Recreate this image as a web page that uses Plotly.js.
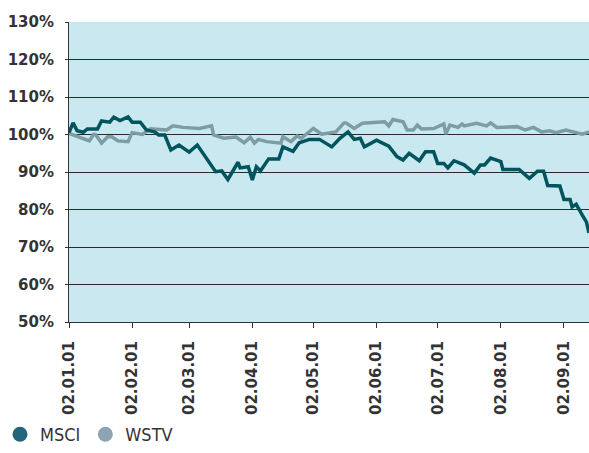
<!DOCTYPE html>
<html>
<head>
<meta charset="utf-8">
<script src="https://cdn.plot.ly/plotly-3.0.1.min.js"></script>
<style>html,body{margin:0;padding:0;background:#fff;}#chart{width:589px;height:453px;}</style>
</head>
<body>
<div id="chart"></div>
<script>
// MSCI index (% of start)
const msciDates = ['2001-01-02','2001-01-04','2001-01-06','2001-01-09','2001-01-11','2001-01-16','2001-01-18','2001-01-22','2001-01-24','2001-01-27','2001-01-31',
'2001-02-02','2001-02-06','2001-02-09','2001-02-13','2001-02-15','2001-02-18','2001-02-21','2001-02-25',
'2001-03-02','2001-03-06','2001-03-15','2001-03-18','2001-03-21','2001-03-26','2001-03-27','2001-03-31',
'2001-04-02','2001-04-04','2001-04-06','2001-04-10','2001-04-15','2001-04-17','2001-04-22','2001-04-25','2001-04-30',
'2001-05-05','2001-05-11','2001-05-15','2001-05-19','2001-05-22','2001-05-25','2001-05-27',
'2001-06-02','2001-06-08','2001-06-12','2001-06-15','2001-06-18','2001-06-23','2001-06-26','2001-06-30',
'2001-07-02','2001-07-05','2001-07-07','2001-07-10','2001-07-15','2001-07-20','2001-07-23','2001-07-25','2001-07-28',
'2001-08-02','2001-08-03','2001-08-11','2001-08-16','2001-08-20','2001-08-23','2001-08-25','2001-08-31',
'2001-09-02','2001-09-05','2001-09-06','2001-09-08','2001-09-11','2001-09-13','2001-09-14 07:00'];
const msciValues = [100.5,103.1,101.0,100.6,101.5,101.5,103.6,103.3,104.6,103.7,104.7,
103.3,103.3,101.2,100.7,99.9,99.9,95.9,97.2,
95.3,97.2,90.1,90.3,88.0,92.6,91.1,91.4,
87.9,91.4,90.3,93.5,93.5,96.7,95.5,97.8,98.7,
98.7,96.7,99.0,100.7,98.7,99.0,96.7,
98.5,96.9,94.1,93.2,95.0,93.0,95.4,95.4,
92.3,92.3,91.1,93.0,91.9,89.7,91.9,91.9,93.7,
92.8,90.7,90.7,88.3,90.2,90.2,86.4,86.3,
82.7,82.7,80.7,81.4,78.5,76.7,73.8];

// WSTV index (% of start)
const wstvDates = ['2001-01-02','2001-01-07','2001-01-12','2001-01-14','2001-01-15','2001-01-18','2001-01-21','2001-01-23','2001-01-26','2001-01-31',
'2001-02-02','2001-02-07','2001-02-11','2001-02-19','2001-02-22','2001-02-27',
'2001-03-07','2001-03-13','2001-03-14','2001-03-19','2001-03-25','2001-03-29',
'2001-04-01','2001-04-03','2001-04-05','2001-04-09','2001-04-16','2001-04-17','2001-04-21','2001-04-24','2001-04-26',
'2001-05-02','2001-05-06','2001-05-13','2001-05-17','2001-05-18','2001-05-22','2001-05-26',
'2001-06-06','2001-06-08','2001-06-10','2001-06-15','2001-06-17','2001-06-20','2001-06-22','2001-06-24','2001-06-30',
'2001-07-05','2001-07-06','2001-07-08','2001-07-12','2001-07-14','2001-07-15','2001-07-21','2001-07-26','2001-07-28','2001-07-31',
'2001-08-10','2001-08-14','2001-08-18','2001-08-22','2001-08-26','2001-08-29',
'2001-09-03','2001-09-11','2001-09-14 07:00'];
const wstvValues = [100.3,99.4,98.3,100.0,100.0,97.7,99.4,99.4,98.3,98.1,
100.5,100.0,101.5,101.2,102.3,101.9,
101.6,102.3,99.9,99.0,99.3,97.8,
99.3,97.7,98.7,98.1,97.7,99.4,98.1,99.6,99.0,
101.6,100.1,100.7,103.1,103.1,101.6,103.0,
103.4,102.3,104.0,103.4,101.2,101.2,102.5,101.5,101.6,
102.8,100.1,102.5,101.9,102.8,102.3,103.0,102.3,103.1,101.9,
102.1,101.2,101.9,100.7,101.0,100.5,
101.2,100.1,100.7];

const seriesNames = ['MSCI','WSTV'];
const tickDates = ['2001-01-02','2001-02-02','2001-03-02','2001-04-02','2001-05-02','2001-06-02','2001-07-02','2001-08-02','2001-09-02'];
const tickLabels = ['02.01.01','02.02.01','02.03.01','02.04.01','02.05.01','02.06.01','02.07.01','02.08.01','02.09.01'];
const yTicks = [50,60,70,80,90,100,110,120,130];
const yTickLabels = ['50%','60%','70%','80%','90%','100%','110%','120%','130%'];

const lineColors = ['#00545d','#7e9ca3'];
const legendColors = ['#24657e','#8ea4b4'];

const traces = [
  {x: wstvDates, y: wstvValues, type:'scatter', mode:'lines', line:{color:lineColors[1], width:3.5}, showlegend:false, hoverinfo:'skip'},
  {x: msciDates, y: msciValues, type:'scatter', mode:'lines', line:{color:lineColors[0], width:3.5}, showlegend:false, hoverinfo:'skip'},
  {x:[null], y:[null], type:'scatter', mode:'markers', name:seriesNames[0], marker:{color:legendColors[0], size:15}},
  {x:[null], y:[null], type:'scatter', mode:'markers', name:seriesNames[1], marker:{color:legendColors[1], size:15}}
];

const layout = {
  width:589, height:453,
  margin:{l:69, r:0, t:22, b:131, pad:0},
  paper_bgcolor:'#ffffff',
  plot_bgcolor:'#c9e8ef',
  showlegend:true,
  legend:{orientation:'h', xref:'container', yref:'container', x:0, xanchor:'left', y:-0.016, yanchor:'bottom',
          font:{family:'Liberation Sans Narrow, DejaVu Sans Condensed, sans-serif', size:18, color:'#333'},
          bgcolor:'rgba(0,0,0,0)', itemclick:false},
  xaxis:{type:'date', range:['2001-01-02','2001-09-14 07:00'], automargin:false,
         tickmode:'array', tickvals:tickDates, ticktext:tickLabels, tickangle:-90,
         ticks:'outside', ticklen:5, tickcolor:'#333', tickwidth:1, ticklabelstandoff:7,
         showline:true, linecolor:'#333', linewidth:1, showgrid:false, zeroline:false,
         tickfont:{family:'DejaVu Sans, sans-serif', size:15, color:'#333', weight:'bold'}},
  yaxis:{range:[50,130], tickmode:'array', tickvals:yTicks, ticktext:yTickLabels, automargin:false,
         ticks:'outside', ticklen:3, tickcolor:'#333', tickwidth:1, ticklabelstandoff:8,
         showline:true, linecolor:'#333', linewidth:1,
         showgrid:true, gridcolor:'#2a2a2a', gridwidth:1, zeroline:false,
         tickfont:{family:'DejaVu Sans, sans-serif', size:15, color:'#333', weight:'bold'}}
};

Plotly.newPlot('chart', traces, layout, {staticPlot:true, displayModeBar:false});
</script>
</body>
</html>
